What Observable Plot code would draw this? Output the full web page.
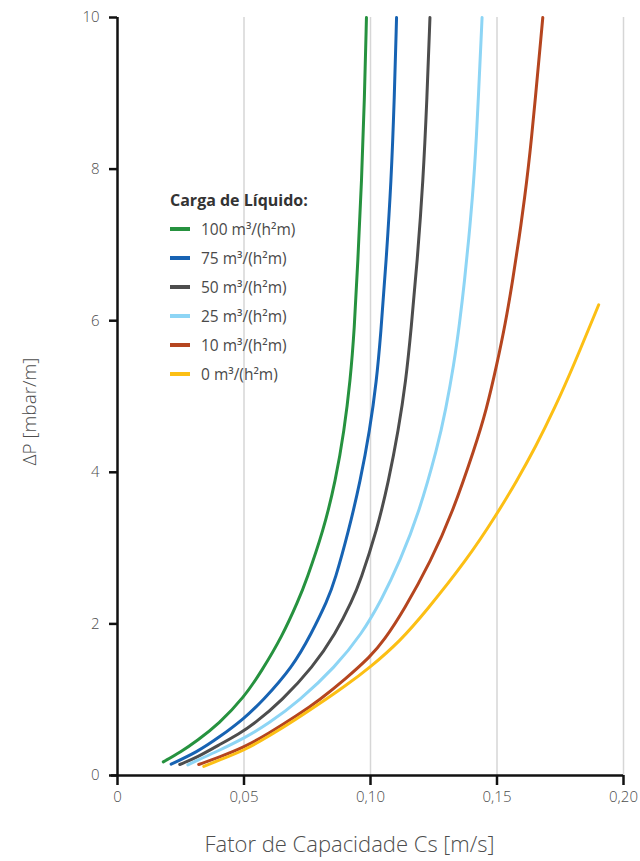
<!DOCTYPE html>
<html>
<head>
<meta charset="utf-8">
<script src="https://cdn.jsdelivr.net/npm/d3@7"></script>
<script src="https://cdn.jsdelivr.net/npm/@observablehq/plot@0.6"></script>
<style>
  html, body { margin: 0; padding: 0; background: #fff; }
  #wrap { position: relative; width: 640px; height: 861px; font-family: "Open Sans", sans-serif; }
  #wrap svg text { font-weight: 300; }
  #legend { position: absolute; left: 0; top: 0; }
  .lg-title { position: absolute; left: 170px; height: 20px; line-height: 20px; font-size: 16px; font-weight: 700; color: #333; white-space: nowrap; }
  .lg-item { position: absolute; left: 170px; height: 20px; display: flex; align-items: center; font-size: 15.5px; font-weight: 400; color: #4a4a4a; white-space: nowrap; }
  .lg-sw { display: inline-block; width: 20px; height: 4.5px; margin-right: 11px; }
</style>
</head>
<body>
<div id="wrap"></div>
<script>
// ---- data ----
const seriesNames = ["100 m³/(h²m)", "75 m³/(h²m)", "50 m³/(h²m)", "25 m³/(h²m)", "10 m³/(h²m)", "0 m³/(h²m)"];
const seriesColors = ["#26923f", "#1763b3", "#4d4d4d", "#8dd5f5", "#b5451f", "#fcbf14"];

const cs100 = [0.0181, 0.025, 0.0315, 0.040, 0.050, 0.057, 0.0650, 0.0715, 0.0746, 0.0814, 0.0862, 0.0896, 0.0920, 0.0936, 0.0950, 0.0965, 0.0976, 0.0984];
const dp100 = [0.18, 0.31, 0.46, 0.68, 1.03, 1.38, 1.83, 2.31, 2.57, 3.23, 3.89, 4.55, 5.21, 5.87, 6.79, 7.85, 8.91, 10];

const cs75 = [0.0212, 0.0315, 0.040, 0.050, 0.0575, 0.0692, 0.0766, 0.0830, 0.0859, 0.0914, 0.0960, 0.0997, 0.1024, 0.1040, 0.1062, 0.1082, 0.1094, 0.1103];
const dp75 = [0.15, 0.31, 0.50, 0.75, 0.99, 1.43, 1.87, 2.31, 2.57, 3.23, 3.89, 4.55, 5.21, 5.80, 6.79, 7.85, 8.91, 10];

const cs50 = [0.0246, 0.0315, 0.0405, 0.0480, 0.0540, 0.0650, 0.0772, 0.0862, 0.0928, 0.0960, 0.1025, 0.1072, 0.1110, 0.1140, 0.1160, 0.1185, 0.1208, 0.1223, 0.1235];
const dp50 = [0.145, 0.24, 0.41, 0.55, 0.68, 0.99, 1.43, 1.87, 2.31, 2.57, 3.23, 3.89, 4.55, 5.21, 5.87, 6.79, 7.85, 8.91, 10];

const cs25 = [0.0278, 0.0315, 0.0395, 0.0505, 0.0595, 0.0720, 0.0860, 0.0966, 0.1043, 0.1118, 0.1190, 0.1265, 0.1297, 0.1330, 0.1352, 0.1372, 0.1389, 0.1402, 0.1417, 0.1441];
const dp25 = [0.14, 0.20, 0.32, 0.50, 0.68, 0.99, 1.43, 1.87, 2.31, 2.84, 3.45, 4.33, 4.82, 5.43, 5.96, 6.53, 7.10, 7.59, 8.25, 10];

const cs10 = [0.0321, 0.040, 0.050, 0.060, 0.071, 0.080, 0.090, 0.1000, 0.1053, 0.1132, 0.1240, 0.1322, 0.1413, 0.1458, 0.1500, 0.1533, 0.1562, 0.1588, 0.1608, 0.1633, 0.1681];
const dp10 = [0.145, 0.24, 0.37, 0.56, 0.79, 1.00, 1.27, 1.57, 1.78, 2.18, 2.84, 3.45, 4.33, 4.82, 5.43, 5.96, 6.53, 7.10, 7.59, 8.25, 10];

const cs0 = [0.0341, 0.040, 0.050, 0.060, 0.071, 0.080, 0.090, 0.100, 0.1119, 0.1215, 0.1380, 0.1500, 0.1577, 0.1652, 0.1730, 0.1802, 0.1902];
const dp0 = [0.12, 0.20, 0.33, 0.52, 0.75, 0.95, 1.18, 1.43, 1.78, 2.15, 2.84, 3.45, 3.88, 4.33, 4.86, 5.40, 6.21];

const xTicks = [0, 0.05, 0.10, 0.15, 0.20];
const xTickLabels = ["0", "0,05", "0,10", "0,15", "0,20"];
const yTicks = [0, 2, 4, 6, 8, 10];
const yTickLabels = ["0", "2", "4", "6", "8", "10"];
const xTitle = "Fator de Capacidade Cs [m/s]";
const yTitle = "ΔP [mbar/m]";
const legendTitle = "Carga de Líquido:";

// ---- build rows ----
const csAll = [cs100, cs75, cs50, cs25, cs10, cs0];
const dpAll = [dp100, dp75, dp50, dp25, dp10, dp0];
const rows = [];
csAll.forEach((xs, i) => xs.forEach((x, j) => rows.push({series: seriesNames[i], cs: x, dp: dpAll[i][j]})));

const chart = Plot.plot({
  width: 640,
  height: 861,
  marginLeft: 117,
  marginRight: 17,
  marginTop: 17,
  marginBottom: 86,
  style: {fontFamily: "Open Sans, sans-serif", fontSize: "15px", color: "#4d4d4d", background: "#fff"},
  x: {domain: [0, 0.20]},
  y: {domain: [0, 10]},
  color: {domain: seriesNames, range: seriesColors},
  marks: [
    Plot.ruleX(xTicks.slice(1), {stroke: "#d6d6d6", strokeWidth: 1.5}),
    Plot.line(rows, {x: "cs", y: "dp", z: "series", stroke: "series", strokeWidth: 3, curve: "basis"}),
    Plot.ruleX([0], {stroke: "#111", strokeWidth: 2.5}),
    Plot.ruleY([0], {stroke: "#111", strokeWidth: 2.5, x1: 0, x2: 0.20, insetLeft: -6}),
    Plot.axisX(xTicks, {tickSize: 10, tickPadding: 6, stroke: "#111", strokeWidth: 2.5, fill: "#4d4d4d",
      tickFormat: (d, i) => xTickLabels[i], label: null}),
    Plot.axisY(yTicks, {tickSize: 8, tickPadding: 10, stroke: "#111", strokeWidth: 2.5, fill: "#4d4d4d",
      tickFormat: (d, i) => yTickLabels[i], label: null}),
    Plot.text([xTitle], {text: d => d, frameAnchor: "bottom", textAnchor: "middle", lineAnchor: "middle", dx: -21, dy: 69, fontSize: 22, fill: "#4d4d4d"}),
    Plot.text([yTitle], {text: d => d, frameAnchor: "left", textAnchor: "middle", lineAnchor: "middle", rotate: -90, dx: -88, dy: 15, fontSize: 19, fill: "#4d4d4d"})
  ]
});

const wrap = document.getElementById("wrap");
wrap.appendChild(chart);

// ---- legend ----
const legend = document.createElement("div");
legend.id = "legend";
const t = document.createElement("div");
t.className = "lg-title";
t.style.top = "190px";
t.textContent = legendTitle;
legend.appendChild(t);
seriesNames.forEach((name, i) => {
  const it = document.createElement("div");
  it.className = "lg-item";
  it.style.top = (219 + i * 29) + "px";
  const sw = document.createElement("span");
  sw.className = "lg-sw";
  sw.style.background = seriesColors[i];
  const tx = document.createElement("span");
  tx.textContent = name;
  it.appendChild(sw);
  it.appendChild(tx);
  legend.appendChild(it);
});
wrap.appendChild(legend);
</script>
</body>
</html>
